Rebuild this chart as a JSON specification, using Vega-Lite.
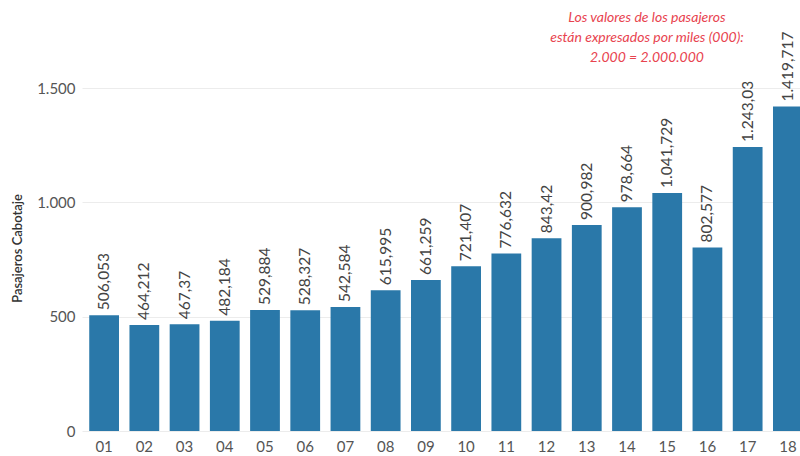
{
  "$schema": "https://vega.github.io/schema/vega-lite/v6.json",
  "width": 718,
  "height": 431,
  "autosize": "none",
  "padding": {"left": 82, "top": 0, "right": 0, "bottom": 25},
  "background": "white",
  "config": {
    "locale": {"number": {"decimal": ",", "thousands": ".", "grouping": [3], "currency": ["", " €"]}},
    "view": {"stroke": null},
    "font": "Lato"
  },
  "data": {
    "values": [
      {"mes": "01", "pasajeros": 506.053},
      {"mes": "02", "pasajeros": 464.212},
      {"mes": "03", "pasajeros": 467.37},
      {"mes": "04", "pasajeros": 482.184},
      {"mes": "05", "pasajeros": 529.884},
      {"mes": "06", "pasajeros": 528.327},
      {"mes": "07", "pasajeros": 542.584},
      {"mes": "08", "pasajeros": 615.995},
      {"mes": "09", "pasajeros": 661.259},
      {"mes": "10", "pasajeros": 721.407},
      {"mes": "11", "pasajeros": 776.632},
      {"mes": "12", "pasajeros": 843.42},
      {"mes": "13", "pasajeros": 900.982},
      {"mes": "14", "pasajeros": 978.664},
      {"mes": "15", "pasajeros": 1041.729},
      {"mes": "16", "pasajeros": 802.577},
      {"mes": "17", "pasajeros": 1243.03},
      {"mes": "18", "pasajeros": 1419.717}
    ]
  },
  "encoding": {
    "x": {
      "field": "mes",
      "type": "ordinal",
      "sort": null,
      "scale": {"range": [0, 728], "paddingInner": 0.26, "paddingOuter": 0.18},
      "axis": {
        "title": null,
        "labelAngle": 0,
        "labelFontSize": 15,
        "labelColor": "#555",
        "labelPadding": 8,
        "ticks": false,
        "domain": false
      }
    },
    "y": {
      "field": "pasajeros",
      "type": "quantitative",
      "scale": {"domain": [0, 1886], "nice": false},
      "axis": {
        "title": "Pasajeros Cabotaje",
        "titleFontSize": 13,
        "titleFontWeight": 600,
        "titleColor": "#333",
        "titlePadding": 12,
        "titleY": 248,
        "values": [0, 500, 1000, 1500],
        "format": ",d",
        "labelFontSize": 15,
        "labelColor": "#555",
        "labelPadding": 7,
        "ticks": false,
        "domain": false,
        "gridColor": "#ececec",
        "gridWidth": 1
      }
    }
  },
  "layer": [
    {
      "mark": {"type": "bar", "color": "#2a78a9"}
    },
    {
      "mark": {"type": "text", "angle": 270, "align": "left", "baseline": "middle", "dx": 5, "fontSize": 15.5, "color": "#444"},
      "encoding": {
        "text": {"field": "pasajeros", "type": "quantitative", "format": ",.3~f"}
      }
    },
    {
      "data": {
        "values": [
          {"mes": "14", "y": 1800, "t": ["Los valores de los pasajeros", "están expresados por miles (000):", "2.000 = 2.000.000"]}
        ]
      },
      "mark": {"type": "text", "fontStyle": "italic", "fontSize": 14, "color": "#e8434f", "align": "center", "baseline": "middle", "dx": 20, "dy": -2, "lineHeight": 20},
      "encoding": {
        "x": {"field": "mes", "type": "ordinal"},
        "y": {"field": "y", "type": "quantitative"},
        "text": {"field": "t"}
      }
    }
  ]
}
